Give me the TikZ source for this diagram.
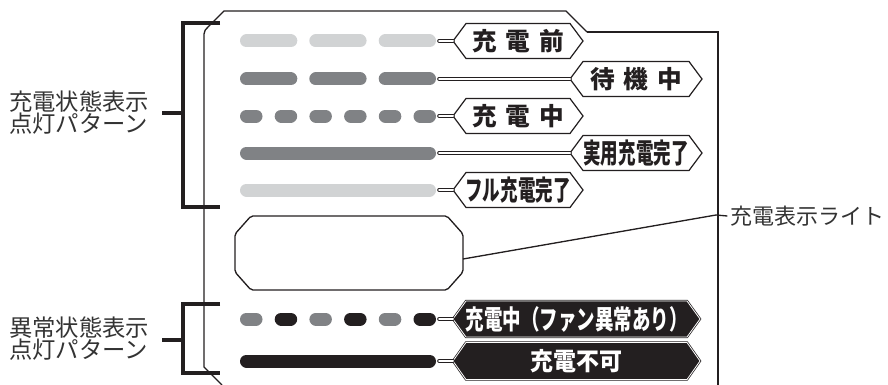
\documentclass[tikz,border=0pt]{standalone}
\usepackage{fontspec}
\usepackage{graphicx}
\newfontfamily\jp{Noto Sans CJK JP}
\definecolor{lg}{HTML}{D1D3D4}
\definecolor{mg}{HTML}{808285}
\definecolor{blk}{HTML}{231F20}
% #1 name, #2 left tip x, #3 right tip x, #4 y, #5 half height, #6 shape style, #7 text style, #8 text
\newcommand\hexlabel[8]{%
  \path[#6] (#2,#4) -- (#2+13,#4-#5) -- (#3-13,#4-#5) -- (#3,#4) -- (#3-13,#4+#5) -- (#2+13,#4+#5) -- cycle;
  \node[#7] (#1) at ({(#2+#3)/2},#4) {#8};
  \coordinate (#1w) at (#2,#4);}
\begin{document}
\begin{tikzpicture}[x=0.75pt,y=-0.75pt,
  pat/.style={line width=9.75pt,line cap=round},
  brk/.style={line width=3.4pt,draw=blk,line join=miter},
  panel/.style={line width=1pt,draw=blk},
  conn/.style={draw=blk,double=white,line width=0.6pt,double distance=1.5pt,line cap=round},
  hexw/.style={draw=blk,line width=0.9pt,fill=white,line join=miter},
  hexb/.style={draw=blk,fill=blk,double=white,double distance=0.6pt,line width=0.55pt,line join=miter},
  labw/.style={inner sep=0pt,text=blk,font=\jp\bfseries\fontsize{18.5}{18.5}\selectfont},
  labb/.style={labw,text=white},
  grouplab/.style={anchor=west,align=left,inner sep=0pt,text=black!80,font=\jp\fontsize{17.5}{16.5}\selectfont},
  calllab/.style={anchor=west,inner sep=0pt,text=black!80,font=\jp\fontsize{16.5}{16.5}\selectfont},
  lightbox/.style={draw=blk,line width=1pt,rounded corners=1.5pt}
]
\useasboundingbox (0,0) rectangle (888,385);

% panel outline
\draw[panel] (222,385) -- (204,367) -- (204,34) to[out=90,in=225] (208,27) -- (224,11) -- (566,11) -- (587,32);
\draw[panel,line width=1.5pt] (587,32) -- (718,32) -- (718,385);

% brackets
\draw[brk] (220,23) -- (183,23) -- (183,207) -- (220,207);
\draw[brk] (162,113) -- (183,113);
\draw[brk] (220,304) -- (183,304) -- (183,373) -- (220,373);
\draw[brk] (162,340) -- (183,340);

% group labels
\node[grouplab] (g1) at (9,113) {充電状態表示\\点灯パターン};
\node[grouplab] (g2) at (9,338.5) {異常状態表示\\点灯パターン};

% row 1: slow blink light gray
\foreach \x in {240,309.3,378.7} \draw[pat,lg] (\x+6.5,41) -- (\x+50.8,41);
% row 2: slow blink dark gray
\foreach \x in {240,309.3,378.7} \draw[pat,mg] (\x+6.5,79) -- (\x+50.8,79);
% row 3: fast blink dark gray
\foreach \x in {240,274.7,309.4,344.1,378.8,413.5} \draw[pat,mg] (\x+6.5,116) -- (\x+16,116);
% row 4: solid dark gray
\draw[pat,mg] (246.5,153) -- (429.5,153);
% row 5: solid light gray
\draw[pat,lg] (246.5,190) -- (429.5,190);
% row 6: alternating
\foreach \x/\c in {240/mg,274.7/blk,309.4/mg,344.1/blk,378.8/mg,413.5/blk} \draw[pat,\c] (\x+6.5,319) -- (\x+16,319);
% row 7: solid black
\draw[pat,blk] (246.5,361) -- (429.5,361);

% pattern end points
\coordinate (e1) at (439,41);
\coordinate (e2) at (439,79);
\coordinate (e3) at (439,116);
\coordinate (e4) at (439,153);
\coordinate (e5) at (439,190);
\coordinate (e6) at (439,319);
\coordinate (e7) at (439,361);

% labels
\hexlabel{l1}{453}{583}{41}{17.5}{hexw}{labw}{充\hspace{6.75pt}電\hspace{6.75pt}前}
\hexlabel{l2}{570}{702}{79}{17.5}{hexw}{labw}{待\hspace{6.75pt}機\hspace{6.75pt}中}
\hexlabel{l3}{453}{583}{116}{17.5}{hexw}{labw}{充\hspace{6.75pt}電\hspace{6.75pt}中}
\hexlabel{l4}{570}{702}{153}{17.5}{hexw}{labw}{\scalebox{0.71}[1.12]{実用充電完了}}
\hexlabel{l5}{453}{583}{190}{17.5}{hexw}{labw}{\scalebox{0.71}[1.12]{フル充電完了}}
\hexlabel{l6}{453}{700}{319}{18}{hexb}{labb}{\scalebox{0.75}[1.08]{充電中（ファン異常あり）}}
\hexlabel{l7}{453}{700}{361}{18.5}{hexb}{labb}{\scalebox{0.93}[1]{充電不可}}

% connectors
\draw[conn] (e1) -- (l1w);
\draw[conn] (e2) -- (l2w);
\draw[conn] (e3) -- (l3w);
\draw[conn] (e4) -- (l4w);
\draw[conn] (e5) -- (l5w);
\draw[conn] (e6) -- (l6w);
\draw[conn] (e7) -- (l7w);

% charge indicator light
\draw[lightbox] (251,216) -- (447,216) -- (463,234) -- (463,272) -- (447,290) -- (251,290) -- (235,272) -- (235,234) -- cycle;
\coordinate (lightR) at (463,259);
\coordinate (lk) at (716,215);
\node[calllab] (lt) at (730,216) {充電表示ライト};
\draw[blk,line width=1pt] (lightR) -- (lk) -- ([xshift=-2pt]lt.west);
\end{tikzpicture}
\end{document}
